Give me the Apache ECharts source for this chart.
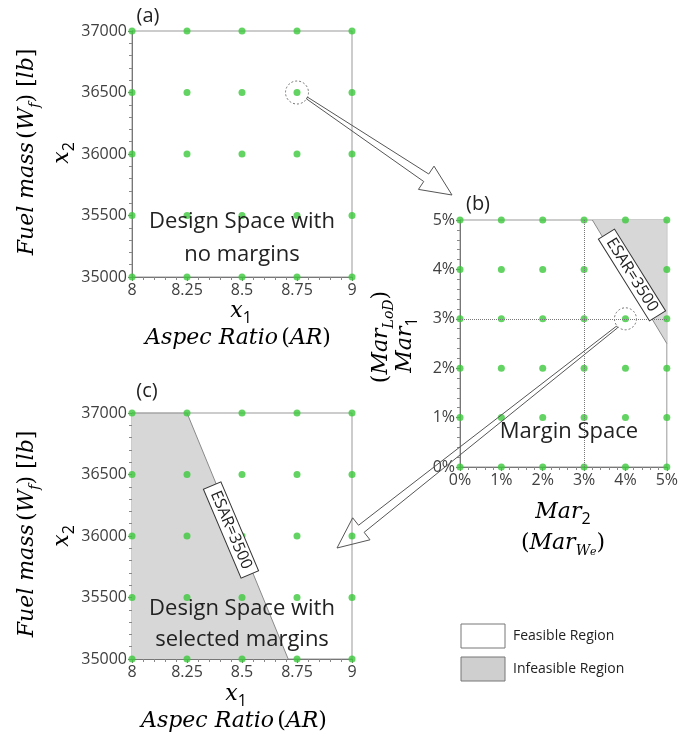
<!DOCTYPE html>
<html lang="en">
<head>
<meta charset="UTF-8">
<title>Design and margin space</title>
<script src="https://cdn.jsdelivr.net/npm/echarts@6/dist/echarts.min.js"></script>
<style>
body {margin: 0; background: #fff;}
#main {width: 681px; height: 749px;}
</style>
</head>
<body>
<div id="main"></div>
<script>
// design variables (panels a and c)
var arLevels = [8, 8.25, 8.5, 8.75, 9];
var wfLevels = [35000, 35500, 36000, 36500, 37000];
// margin levels in % (panel b)
var marLevels = [0, 1, 2, 3, 4, 5];

// selected points
var pickedDesign = [8.75, 36500];
var pickedMargin = [4, 3];

// ESAR=3500 boundary lines
var esarMargin = [[3.2, 5], [5, 2.5]];
var esarDesign = [[8, 37000], [8.25, 37000], [8.71, 35000]];

var green = '#3cc83c';
var grayFill = '#d7d7d7';
var sans = '"Open Sans", sans-serif';
var serif = '"DejaVu Serif", serif';

function grid2(xs, ys) {
    var out = [];
    xs.forEach(function (x) {
        ys.forEach(function (y) { out.push([x, y]); });
    });
    return out;
}

var chart = echarts.init(document.getElementById('main'));

function axisCommon(extra, fmt) {
    var a = {
        type: 'value',
        axisLine: {show: true, lineStyle: {color: '#777', width: 1}},
        axisTick: {show: true, length: 4, lineStyle: {color: '#777'}},
        minorTick: {show: true, splitNumber: 5, length: 3, lineStyle: {color: '#888'}},
        splitLine: {show: false},
        axisLabel: {color: '#404040', fontFamily: sans, fontSize: 16, margin: 5, formatter: fmt}
    };
    for (var k in extra) a[k] = extra[k];
    return a;
}

var num = function (v) { return String(v); };
var pct = function (v) { return v + '%'; };

chart.setOption({
    animation: false,
    grid: [
        {left: 132, top: 31, width: 220, height: 246, show: true, borderColor: '#999', borderWidth: 1},
        {left: 460, top: 220, width: 212, height: 247, show: true, borderColor: '#999', borderWidth: 1},
        {left: 132, top: 413, width: 220, height: 246, show: true, borderColor: '#999', borderWidth: 1}
    ],
    xAxis: [
        axisCommon({gridIndex: 0, min: 8, max: 9, interval: 0.25}, num),
        axisCommon({gridIndex: 1, min: 0, max: 5, interval: 1}, pct),
        axisCommon({gridIndex: 2, min: 8, max: 9, interval: 0.25}, num)
    ],
    yAxis: [
        axisCommon({gridIndex: 0, min: 35000, max: 37000, interval: 500}, num),
        axisCommon({gridIndex: 1, min: 0, max: 5, interval: 1}, pct),
        axisCommon({gridIndex: 2, min: 35000, max: 37000, interval: 500}, num)
    ],
    series: [
        // infeasible region in margin space
        {
            type: 'line', xAxisIndex: 1, yAxisIndex: 1, data: esarMargin,
            symbol: 'none', z: 1,
            lineStyle: {color: '#8a8a8a', width: 1},
            areaStyle: {color: grayFill, opacity: 1, origin: 'end'}
        },
        // infeasible region in design space with margins
        {
            type: 'line', xAxisIndex: 2, yAxisIndex: 2, data: esarDesign,
            symbol: 'none', z: 1,
            lineStyle: {color: '#8a8a8a', width: 1},
            areaStyle: {color: grayFill, opacity: 1, origin: 'start'}
        },
        {
            type: 'scatter', xAxisIndex: 0, yAxisIndex: 0, data: grid2(arLevels, wfLevels),
            symbolSize: 7, itemStyle: {color: green}, z: 3
        },
        {
            type: 'scatter', xAxisIndex: 1, yAxisIndex: 1, data: grid2(marLevels, marLevels),
            symbolSize: 7, itemStyle: {color: green}, z: 3,
            markLine: {
                silent: true, symbol: 'none', label: {show: false},
                lineStyle: {color: '#777', type: 'dotted', width: 1},
                data: [{xAxis: 3}, {yAxis: 3}]
            }
        },
        {
            type: 'scatter', xAxisIndex: 2, yAxisIndex: 2, data: grid2(arLevels, wfLevels),
            symbolSize: 7, itemStyle: {color: green}, z: 3
        },
        // dashed circles around the picked points
        {
            type: 'scatter', xAxisIndex: 0, yAxisIndex: 0, data: [pickedDesign],
            symbolSize: 23, z: 4,
            itemStyle: {color: 'rgba(0,0,0,0)', borderColor: '#555', borderWidth: 1, borderType: [2, 2]}
        },
        {
            type: 'scatter', xAxisIndex: 1, yAxisIndex: 1, data: [pickedMargin],
            symbolSize: 22, z: 4,
            itemStyle: {color: 'rgba(0,0,0,0)', borderColor: '#555', borderWidth: 1, borderType: [2, 2]}
        }
    ]
});

// math-ish rich styles for the axis titles
var rich = {
    it: {fontFamily: serif, fontStyle: 'italic', fontSize: 22, color: '#222', lineHeight: 30},
    up: {fontFamily: serif, fontSize: 22, color: '#222', lineHeight: 30},
    sub: {fontFamily: serif, fontStyle: 'italic', fontSize: 14, color: '#222', lineHeight: 14, verticalAlign: 'bottom'},
    subn: {fontFamily: sans, fontSize: 16, color: '#222', lineHeight: 14, verticalAlign: 'bottom'},
    subsub: {fontFamily: serif, fontStyle: 'italic', fontSize: 11, color: '#222', lineHeight: 8, verticalAlign: 'bottom'}
};

function title(x, y, text, rot) {
    return {
        type: 'text', x: x, y: y, rotation: rot || 0, z: 100,
        style: {text: text, rich: rich, align: 'center', verticalAlign: 'middle'}
    };
}

function plain(x, y, text, size, align) {
    return {
        type: 'text', x: x, y: y, z: 100,
        style: {text: text, fontFamily: sans, fontSize: size, fill: '#222', align: align || 'center', verticalAlign: 'middle'}
    };
}

function esarLabel(x, y, deg) {
    return {
        type: 'text', x: x, y: y, rotation: -deg * Math.PI / 180, z: 100,
        style: {
            text: 'ESAR=3500', fontFamily: sans, fontSize: 16, fill: '#222',
            align: 'center', verticalAlign: 'middle',
            backgroundColor: '#fff', borderColor: '#333', borderWidth: 1, padding: [1, 6]
        }
    };
}

// hollow tapered arrow from tail to tip
function arrow(tail, tip) {
    var dx = tip[0] - tail[0], dy = tip[1] - tail[1];
    var len = Math.sqrt(dx * dx + dy * dy);
    var ux = dx / len, uy = dy / len, nx = -uy, ny = ux;
    var L = 31, hw = 14, sw = 4.5, tw = 1;
    var bx = tip[0] - ux * L, by = tip[1] - uy * L;
    var pts = [
        [tail[0] + nx * tw, tail[1] + ny * tw],
        [bx + nx * sw, by + ny * sw],
        [bx + nx * hw, by + ny * hw],
        tip,
        [bx - nx * hw, by - ny * hw],
        [bx - nx * sw, by - ny * sw],
        [tail[0] - nx * tw, tail[1] - ny * tw]
    ];
    return {
        type: 'polygon', z: 90, shape: {points: pts},
        style: {fill: 'none', stroke: '#555', lineWidth: 1}
    };
}

chart.setOption({
    graphic: [
        // panel tags
        plain(148, 16, '(a)', 20),
        plain(478, 204, '(b)', 20),
        plain(147, 391, '(c)', 20),

        // panel a titles
        title(241, 311, '{it|x}{subn|1}'),
        title(238, 338, '{it|Aspec Ratio} {up|(}{it|AR}{up|)}'),
        title(62, 153, '{it|x}{subn|2}', Math.PI / 2),
        title(27, 152, '{it|Fuel mass} {up|(}{it|W}{sub|f}{up|) [}{it|lb}{up|]}', Math.PI / 2),

        // panel b titles
        title(563, 512, '{it|Mar}{subn|2}'),
        title(563, 543, '{up|(}{it|Mar}{sub|W}{subsub|e}{up|)}'),
        title(405, 345, '{it|Mar}{subn|1}', Math.PI / 2),
        title(381, 337, '{up|(}{it|Mar}{sub|LoD}{up|)}', Math.PI / 2),

        // panel c titles
        title(236, 694, '{it|x}{subn|1}'),
        title(234, 721, '{it|Aspec Ratio} {up|(}{it|AR}{up|)}'),
        title(62, 536, '{it|x}{subn|2}', Math.PI / 2),
        title(27, 534, '{it|Fuel mass} {up|(}{it|W}{sub|f}{up|) [}{it|lb}{up|]}', Math.PI / 2),

        // in-plot captions
        plain(242, 222, 'Design Space with', 22),
        plain(242, 255, 'no margins', 22),
        plain(569, 432, 'Margin Space', 22),
        plain(242, 609, 'Design Space with', 22),
        plain(242, 640, 'selected margins', 22),

        esarLabel(632, 275, 58),
        esarLabel(231, 530, 67),

        arrow([307, 98], [452, 195]),
        arrow([617, 327], [337, 548]),

        // legend
        {type: 'rect', z: 100, shape: {x: 461, y: 624, width: 44, height: 24}, style: {fill: '#fff', stroke: '#777', lineWidth: 1}},
        {type: 'rect', z: 100, shape: {x: 461, y: 657, width: 44, height: 24}, style: {fill: '#cfcfcf', stroke: '#777', lineWidth: 1}},
        plain(513, 636, 'Feasible Region', 14, 'left'),
        plain(513, 669, 'Infeasible Region', 14, 'left')
    ]
});
</script>
</body>
</html>
